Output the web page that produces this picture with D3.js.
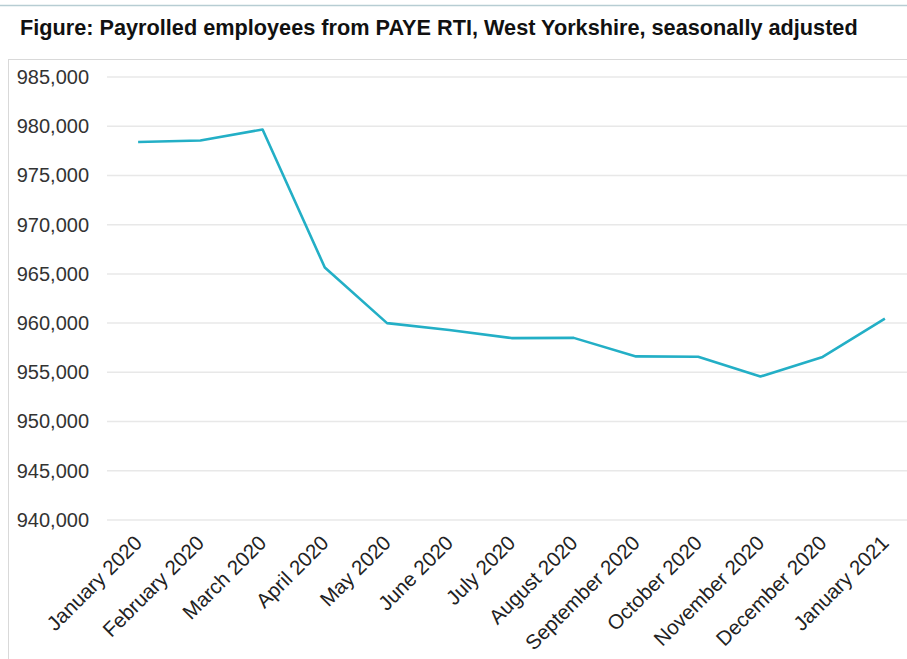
<!DOCTYPE html>
<html lang="en">
<head>
    <meta charset="UTF-8">
    <title>Payrolled employees, West Yorkshire</title>
    <script src="https://cdn.jsdelivr.net/npm/d3@7"></script>
</head>
<style>
    body { margin: 0; background: #fff; }
    svg { display: block; font-family: "Liberation Sans", Arial, sans-serif; }
</style>
<body>
</body>
</html>
<script>

    // data
    var months = ["January 2020", "February 2020", "March 2020", "April 2020", "May 2020",
        "June 2020", "July 2020", "August 2020", "September 2020", "October 2020",
        "November 2020", "December 2020", "January 2021"];
    var employees = [978400, 978550, 979670, 965650, 960000, 959300, 958480,
        958500, 956620, 956590, 954570, 956560, 960450];
    var yTicks = [940000, 945000, 950000, 955000, 960000, 965000, 970000, 975000, 980000, 985000];

    var w = 907;
    var h = 659;

    var svg = d3.select("body")
            .append("svg")
            .attr("width", w)
            .attr("height", h);

    // top rule and frame
    svg.append("line")
            .attr("x1", 0).attr("x2", w)
            .attr("y1", 5.5).attr("y2", 5.5)
            .attr("stroke", "#b7cdd3")
            .attr("stroke-width", 1.5);

    svg.append("rect")
            .attr("x", 8.5).attr("y", 59.5)
            .attr("width", w).attr("height", h)
            .attr("fill", "none")
            .attr("stroke", "#d9d9d9");

    svg.append("text")
            .attr("x", 20)
            .attr("y", 35)
            .attr("font-size", "21.7px")
            .attr("font-weight", "bold")
            .attr("fill", "#111")
            .text("Figure: Payrolled employees from PAYE RTI, West Yorkshire, seasonally adjusted");

    var x = d3.scaleBand()
            .domain(months)
            .range([107, 916]);

    var y = d3.scaleLinear()
            .domain([940000, 985000])
            .range([520, 77]);

    // gridlines
    svg.selectAll("line.grid")
            .data(yTicks)
            .enter()
            .append("line")
            .attr("class", "grid")
            .attr("x1", 107)
            .attr("x2", w)
            .attr("y1", function (d) { return y(d); })
            .attr("y2", function (d) { return y(d); })
            .attr("stroke", "#e8e8e8")
            .attr("stroke-width", 1.5);

    // y axis labels
    var yAxis = d3.axisLeft(y)
            .tickValues(yTicks)
            .tickFormat(d3.format(","))
            .tickSize(0)
            .tickPadding(0);

    var gy = svg.append("g")
            .attr("transform", "translate(89,0)")
            .call(yAxis);
    gy.select(".domain").remove();
    gy.selectAll("text")
            .attr("font-size", "20px")
            .attr("font-family", "Liberation Sans, Arial, sans-serif")
            .attr("fill", "#333");

    // x axis labels
    var xAxis = d3.axisBottom(x)
            .tickSize(0)
            .tickPadding(0);

    var gx = svg.append("g")
            .attr("transform", "translate(0,533)")
            .call(xAxis);
    gx.select(".domain").remove();
    gx.selectAll("text")
            .attr("font-size", "20.5px")
            .attr("font-family", "Liberation Sans, Arial, sans-serif")
            .attr("fill", "#222")
            .attr("text-anchor", "end")
            .attr("y", 0)
            .attr("dy", "0.35em")
            .attr("transform", "translate(0,6) rotate(-45)");

    // the series line
    var line = d3.line()
            .x(function (d, i) { return x(months[i]) + x.bandwidth() / 2; })
            .y(function (d) { return y(d); });

    svg.append("path")
            .datum(employees)
            .attr("d", line)
            .attr("fill", "none")
            .attr("stroke", "#23afc6")
            .attr("stroke-width", 2.6)
            .attr("stroke-linejoin", "round");
</script>
